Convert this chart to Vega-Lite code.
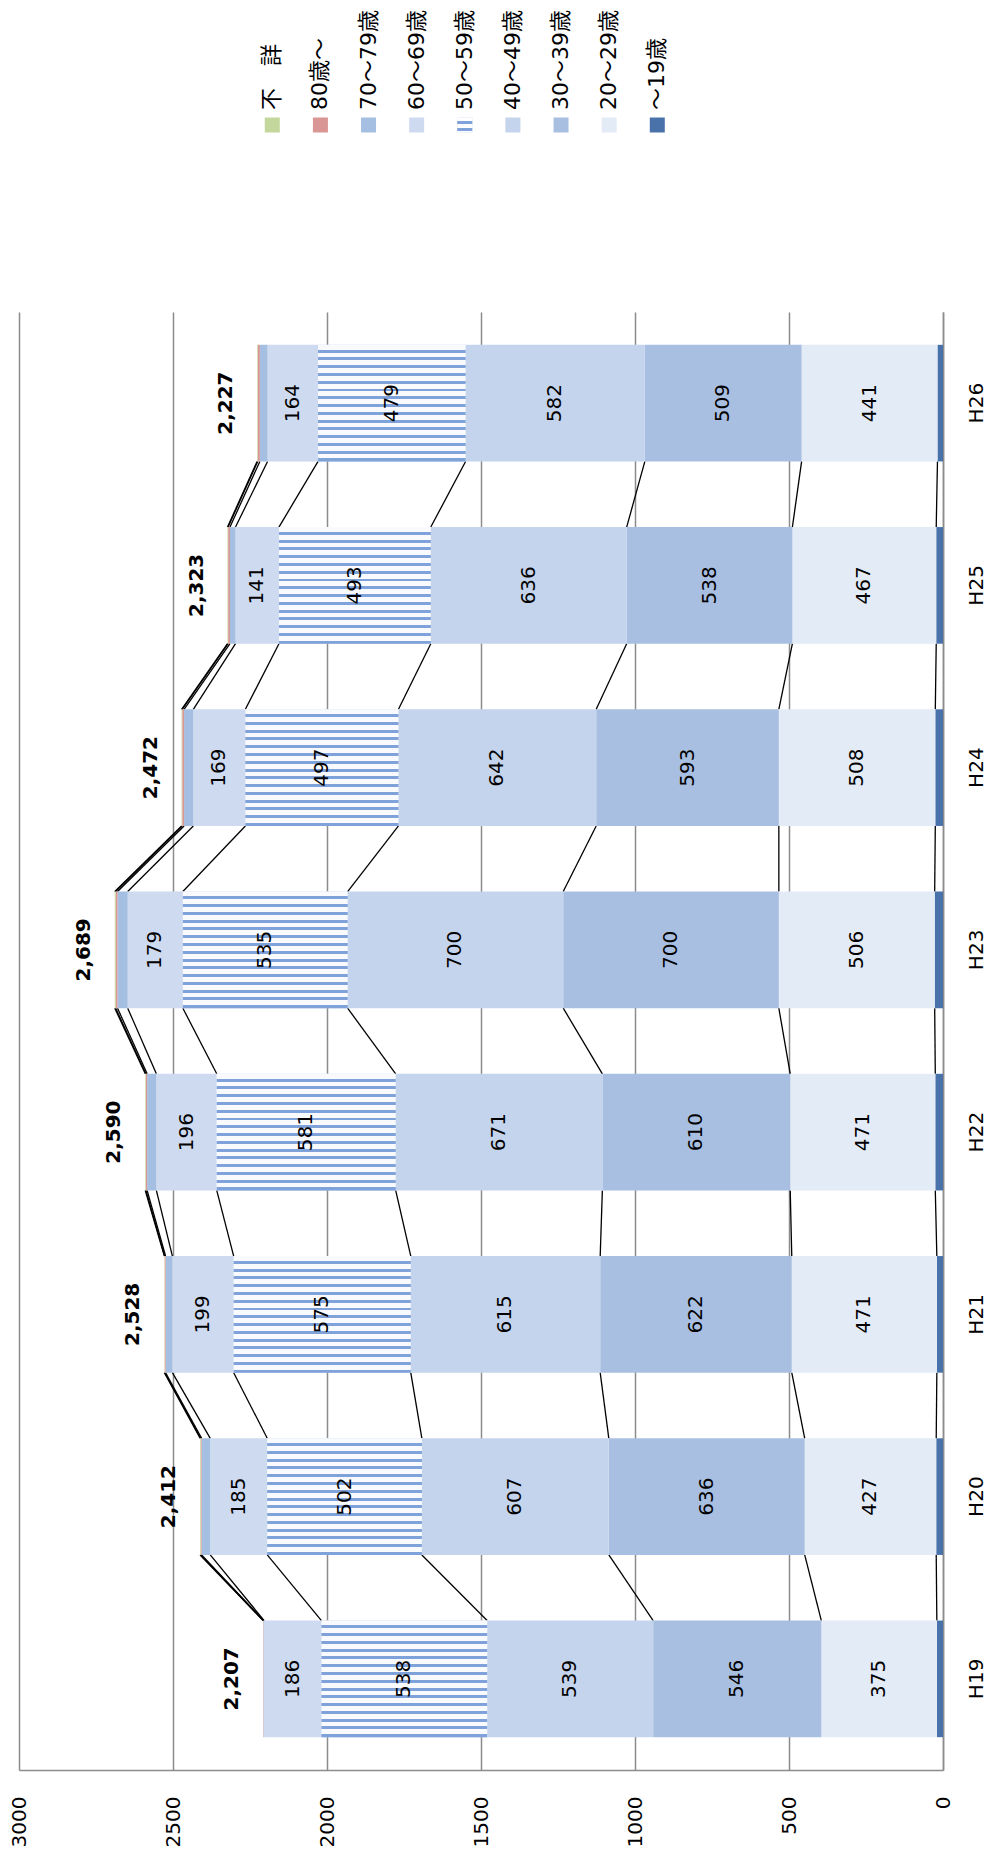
{
  "$schema": "https://vega.github.io/schema/vega-lite/v6.json",
  "padding": {"left": 9, "top": 0, "right": 0, "bottom": 0},
  "config": {
    "view": {"stroke": null},
    "font": "DejaVu Sans",
    "axis": {"labelFont": "DejaVu Sans", "labelColor": "#000000", "labelFontSize": 20}
  },
  "datasets": {
    "main": [
      {"year": "H19", "series": "～19歳", "s": 1, "v": 20},
      {"year": "H19", "series": "20～29歳", "s": 2, "v": 375},
      {"year": "H19", "series": "30～39歳", "s": 3, "v": 546},
      {"year": "H19", "series": "40～49歳", "s": 4, "v": 539},
      {"year": "H19", "series": "50～59歳", "s": 5, "v": 538},
      {"year": "H19", "series": "60～69歳", "s": 6, "v": 186},
      {"year": "H19", "series": "70～79歳", "s": 7, "v": 2},
      {"year": "H19", "series": "80歳～", "s": 8, "v": 1},
      {"year": "H19", "series": "不　詳", "s": 9, "v": 0},
      {"year": "H20", "series": "～19歳", "s": 1, "v": 22},
      {"year": "H20", "series": "20～29歳", "s": 2, "v": 427},
      {"year": "H20", "series": "30～39歳", "s": 3, "v": 636},
      {"year": "H20", "series": "40～49歳", "s": 4, "v": 607},
      {"year": "H20", "series": "50～59歳", "s": 5, "v": 502},
      {"year": "H20", "series": "60～69歳", "s": 6, "v": 185},
      {"year": "H20", "series": "70～79歳", "s": 7, "v": 28},
      {"year": "H20", "series": "80歳～", "s": 8, "v": 3},
      {"year": "H20", "series": "不　詳", "s": 9, "v": 2},
      {"year": "H21", "series": "～19歳", "s": 1, "v": 20},
      {"year": "H21", "series": "20～29歳", "s": 2, "v": 471},
      {"year": "H21", "series": "30～39歳", "s": 3, "v": 622},
      {"year": "H21", "series": "40～49歳", "s": 4, "v": 615},
      {"year": "H21", "series": "50～59歳", "s": 5, "v": 575},
      {"year": "H21", "series": "60～69歳", "s": 6, "v": 199},
      {"year": "H21", "series": "70～79歳", "s": 7, "v": 22},
      {"year": "H21", "series": "80歳～", "s": 8, "v": 3},
      {"year": "H21", "series": "不　詳", "s": 9, "v": 1},
      {"year": "H22", "series": "～19歳", "s": 1, "v": 25},
      {"year": "H22", "series": "20～29歳", "s": 2, "v": 471},
      {"year": "H22", "series": "30～39歳", "s": 3, "v": 610},
      {"year": "H22", "series": "40～49歳", "s": 4, "v": 671},
      {"year": "H22", "series": "50～59歳", "s": 5, "v": 581},
      {"year": "H22", "series": "60～69歳", "s": 6, "v": 196},
      {"year": "H22", "series": "70～79歳", "s": 7, "v": 30},
      {"year": "H22", "series": "80歳～", "s": 8, "v": 4},
      {"year": "H22", "series": "不　詳", "s": 9, "v": 2},
      {"year": "H23", "series": "～19歳", "s": 1, "v": 27},
      {"year": "H23", "series": "20～29歳", "s": 2, "v": 506},
      {"year": "H23", "series": "30～39歳", "s": 3, "v": 700},
      {"year": "H23", "series": "40～49歳", "s": 4, "v": 700},
      {"year": "H23", "series": "50～59歳", "s": 5, "v": 535},
      {"year": "H23", "series": "60～69歳", "s": 6, "v": 179},
      {"year": "H23", "series": "70～79歳", "s": 7, "v": 33},
      {"year": "H23", "series": "80歳～", "s": 8, "v": 6},
      {"year": "H23", "series": "不　詳", "s": 9, "v": 3},
      {"year": "H24", "series": "～19歳", "s": 1, "v": 25},
      {"year": "H24", "series": "20～29歳", "s": 2, "v": 508},
      {"year": "H24", "series": "30～39歳", "s": 3, "v": 593},
      {"year": "H24", "series": "40～49歳", "s": 4, "v": 642},
      {"year": "H24", "series": "50～59歳", "s": 5, "v": 497},
      {"year": "H24", "series": "60～69歳", "s": 6, "v": 169},
      {"year": "H24", "series": "70～79歳", "s": 7, "v": 30},
      {"year": "H24", "series": "80歳～", "s": 8, "v": 6},
      {"year": "H24", "series": "不　詳", "s": 9, "v": 2},
      {"year": "H25", "series": "～19歳", "s": 1, "v": 22},
      {"year": "H25", "series": "20～29歳", "s": 2, "v": 467},
      {"year": "H25", "series": "30～39歳", "s": 3, "v": 538},
      {"year": "H25", "series": "40～49歳", "s": 4, "v": 636},
      {"year": "H25", "series": "50～59歳", "s": 5, "v": 493},
      {"year": "H25", "series": "60～69歳", "s": 6, "v": 141},
      {"year": "H25", "series": "70～79歳", "s": 7, "v": 18},
      {"year": "H25", "series": "80歳～", "s": 8, "v": 6},
      {"year": "H25", "series": "不　詳", "s": 9, "v": 2},
      {"year": "H26", "series": "～19歳", "s": 1, "v": 18},
      {"year": "H26", "series": "20～29歳", "s": 2, "v": 441},
      {"year": "H26", "series": "30～39歳", "s": 3, "v": 509},
      {"year": "H26", "series": "40～49歳", "s": 4, "v": 582},
      {"year": "H26", "series": "50～59歳", "s": 5, "v": 479},
      {"year": "H26", "series": "60～69歳", "s": 6, "v": 164},
      {"year": "H26", "series": "70～79歳", "s": 7, "v": 25},
      {"year": "H26", "series": "80歳～", "s": 8, "v": 7},
      {"year": "H26", "series": "不　詳", "s": 9, "v": 2}
    ],
    "legend": [
      {"series": "不　詳", "s": 9},
      {"series": "80歳～", "s": 8},
      {"series": "70～79歳", "s": 7},
      {"series": "60～69歳", "s": 6},
      {"series": "50～59歳", "s": 5},
      {"series": "40～49歳", "s": 4},
      {"series": "30～39歳", "s": 3},
      {"series": "20～29歳", "s": 2},
      {"series": "～19歳", "s": 1}
    ]
  },
  "spacing": 62,
  "vconcat": [
    {
      "width": 924,
      "height": 250,
      "data": {"name": "legend"},
      "layer": [
        {
          "mark": {"type": "square", "size": 225, "opacity": 1, "filled": true},
          "encoding": {
            "x": {"field": "s", "type": "quantitative", "title": null, "axis": null,
                  "scale": {"domain": [-4.937, 14.263], "reverse": true, "nice": false, "zero": false}},
            "color": {"field": "series", "type": "nominal", "legend": null}
          }
        },
        {
          "transform": [{"filter": "datum.s === 5"}],
          "mark": {"type": "square", "size": 225, "opacity": 1,
                   "fill": {"gradient": "linear", "x1": 0, "y1": 0, "x2": 0, "y2": 1,
                            "stops": [
                              {"offset": 0, "color": "#ffffff"}, {"offset": 0.26, "color": "#ffffff"},
                              {"offset": 0.26, "color": "#7ea2d9"}, {"offset": 0.42, "color": "#7ea2d9"},
                              {"offset": 0.42, "color": "#ffffff"}, {"offset": 0.72, "color": "#ffffff"},
                              {"offset": 0.72, "color": "#7ea2d9"}, {"offset": 0.88, "color": "#7ea2d9"},
                              {"offset": 0.88, "color": "#ffffff"}, {"offset": 1, "color": "#ffffff"}
                            ]}},
          "encoding": {
            "x": {"field": "s", "type": "quantitative", "title": null, "axis": null,
                  "scale": {"domain": [-4.937, 14.263], "reverse": true, "nice": false, "zero": false}}
          }
        },
        {
          "mark": {"type": "text", "angle": 270, "align": "left", "baseline": "middle", "dx": 15, "fontSize": 22, "font": "DejaVu Sans, Noto Sans CJK JP", "color": "#000000"},
          "encoding": {
            "x": {"field": "s", "type": "quantitative", "title": null, "axis": null,
                  "scale": {"domain": [-4.937, 14.263], "reverse": true, "nice": false, "zero": false}},
            "text": {"field": "series", "type": "nominal"}
          }
        }
      ]
    },
    {
      "width": 924,
      "height": 1458,
      "data": {"name": "main"},
      "transform": [
        {"stack": "v", "groupby": ["year"], "sort": [{"field": "s", "order": "ascending"}], "as": ["v0", "v1"]}
      ],
      "layer": [
        {
          "transform": [
            {"window": [{"op": "lead", "field": "v1", "as": "v1n"}, {"op": "lead", "field": "year", "as": "yearn"}],
             "groupby": ["s"], "sort": [{"field": "year", "order": "ascending"}]},
            {"filter": "datum.yearn != null"}
          ],
          "mark": {"type": "rule", "color": "#000000", "strokeWidth": 1.3},
          "encoding": {
            "x": {"field": "v1", "type": "quantitative", "title": null,
                  "scale": {"domain": [0, 3000], "reverse": true, "nice": false, "zero": true},
                  "axis": {"values": [0, 500, 1000, 1500, 2000, 2500, 3000], "format": "d", "grid": true, "gridColor": "#8c8c8c", "gridWidth": 1.5,
                           "domainColor": "#8c8c8c", "domainWidth": 1.5, "ticks": false, "labelAngle": 270,
                           "labelAlign": "right", "labelBaseline": "middle", "labelPadding": 26, "labelFlush": false,
                           "labelOverlap": false, "labelFontSize": 20, "labelColor": "#000000"}},
            "x2": {"field": "v1n"},
            "y": {"field": "year", "type": "ordinal", "title": null, "bandPosition": 0,
                  "scale": {"domain": ["H26", "H25", "H24", "H23", "H22", "H21", "H20", "H19"], "paddingInner": 0.36, "paddingOuter": 0.18},
                  "axis": {"orient": "right", "ticks": false, "grid": false, "domainColor": "#8c8c8c", "domainWidth": 1.5,
                           "labelAngle": 270, "labelAlign": "center", "labelBaseline": "top", "labelPadding": 23,
                           "labelFontSize": 20, "labelColor": "#000000"}},
            "y2": {"field": "yearn", "bandPosition": 1}
          }
        },
        {
          "mark": {"type": "bar"},
          "encoding": {
            "x": {"field": "v0", "type": "quantitative", "title": null,
                  "scale": {"domain": [0, 3000], "reverse": true, "nice": false, "zero": true},
                  "axis": {"values": [0, 500, 1000, 1500, 2000, 2500, 3000], "format": "d", "grid": true, "gridColor": "#8c8c8c", "gridWidth": 1.5,
                           "domainColor": "#8c8c8c", "domainWidth": 1.5, "ticks": false, "labelAngle": 270,
                           "labelAlign": "right", "labelBaseline": "middle", "labelPadding": 26, "labelFlush": false,
                           "labelOverlap": false, "labelFontSize": 20, "labelColor": "#000000"}},
            "x2": {"field": "v1"},
            "y": {"field": "year", "type": "ordinal", "title": null,
                  "scale": {"domain": ["H26", "H25", "H24", "H23", "H22", "H21", "H20", "H19"], "paddingInner": 0.36, "paddingOuter": 0.18},
                  "axis": {"orient": "right", "ticks": false, "grid": false, "domainColor": "#8c8c8c", "domainWidth": 1.5,
                           "labelAngle": 270, "labelAlign": "center", "labelBaseline": "top", "labelPadding": 23,
                           "labelFontSize": 20, "labelColor": "#000000"}},
            "color": {"field": "series", "type": "nominal", "legend": null,
                      "scale": {"domain": ["～19歳", "20～29歳", "30～39歳", "40～49歳", "50～59歳", "60～69歳", "70～79歳", "80歳～", "不　詳"],
                                "range": ["#4a72aa", "#e3ebf7", "#a8bfe2", "#c4d4ed", "#c0d2ec", "#cddaf0", "#a5bfe3", "#d99694", "#c3d69b"]}}
          }
        },
        {
          "transform": [{"filter": "datum.s === 5"}],
          "mark": {"type": "bar",
                   "fill": {"gradient": "linear", "x1": 0, "y1": 0, "x2": 0, "y2": 1,
                            "stops": [
                              {"offset": 0, "color": "#f8fafd"}, {"offset": 0.041333, "color": "#f8fafd"}, {"offset": 0.041333, "color": "#7ea2d9"}, {"offset": 0.066667, "color": "#7ea2d9"},
                              {"offset": 0.066667, "color": "#f8fafd"}, {"offset": 0.108, "color": "#f8fafd"}, {"offset": 0.108, "color": "#7ea2d9"}, {"offset": 0.133333, "color": "#7ea2d9"},
                              {"offset": 0.133333, "color": "#f8fafd"}, {"offset": 0.174667, "color": "#f8fafd"}, {"offset": 0.174667, "color": "#7ea2d9"}, {"offset": 0.2, "color": "#7ea2d9"},
                              {"offset": 0.2, "color": "#f8fafd"}, {"offset": 0.241333, "color": "#f8fafd"}, {"offset": 0.241333, "color": "#7ea2d9"}, {"offset": 0.266667, "color": "#7ea2d9"},
                              {"offset": 0.266667, "color": "#f8fafd"}, {"offset": 0.308, "color": "#f8fafd"}, {"offset": 0.308, "color": "#7ea2d9"}, {"offset": 0.333333, "color": "#7ea2d9"},
                              {"offset": 0.333333, "color": "#f8fafd"}, {"offset": 0.374667, "color": "#f8fafd"}, {"offset": 0.374667, "color": "#7ea2d9"}, {"offset": 0.4, "color": "#7ea2d9"},
                              {"offset": 0.4, "color": "#f8fafd"}, {"offset": 0.441333, "color": "#f8fafd"}, {"offset": 0.441333, "color": "#7ea2d9"}, {"offset": 0.466667, "color": "#7ea2d9"},
                              {"offset": 0.466667, "color": "#f8fafd"}, {"offset": 0.508, "color": "#f8fafd"}, {"offset": 0.508, "color": "#7ea2d9"}, {"offset": 0.533333, "color": "#7ea2d9"},
                              {"offset": 0.533333, "color": "#f8fafd"}, {"offset": 0.574667, "color": "#f8fafd"}, {"offset": 0.574667, "color": "#7ea2d9"}, {"offset": 0.6, "color": "#7ea2d9"},
                              {"offset": 0.6, "color": "#f8fafd"}, {"offset": 0.641333, "color": "#f8fafd"}, {"offset": 0.641333, "color": "#7ea2d9"}, {"offset": 0.666667, "color": "#7ea2d9"},
                              {"offset": 0.666667, "color": "#f8fafd"}, {"offset": 0.708, "color": "#f8fafd"}, {"offset": 0.708, "color": "#7ea2d9"}, {"offset": 0.733333, "color": "#7ea2d9"},
                              {"offset": 0.733333, "color": "#f8fafd"}, {"offset": 0.774667, "color": "#f8fafd"}, {"offset": 0.774667, "color": "#7ea2d9"}, {"offset": 0.8, "color": "#7ea2d9"},
                              {"offset": 0.8, "color": "#f8fafd"}, {"offset": 0.841333, "color": "#f8fafd"}, {"offset": 0.841333, "color": "#7ea2d9"}, {"offset": 0.866667, "color": "#7ea2d9"},
                              {"offset": 0.866667, "color": "#f8fafd"}, {"offset": 0.908, "color": "#f8fafd"}, {"offset": 0.908, "color": "#7ea2d9"}, {"offset": 0.933333, "color": "#7ea2d9"},
                              {"offset": 0.933333, "color": "#f8fafd"}, {"offset": 0.974667, "color": "#f8fafd"}, {"offset": 0.974667, "color": "#7ea2d9"}, {"offset": 1, "color": "#7ea2d9"}
                            ]}},
          "encoding": {
            "x": {"field": "v0", "type": "quantitative", "title": null,
                  "scale": {"domain": [0, 3000], "reverse": true, "nice": false, "zero": true},
                  "axis": {"values": [0, 500, 1000, 1500, 2000, 2500, 3000], "format": "d", "grid": true, "gridColor": "#8c8c8c", "gridWidth": 1.5,
                           "domainColor": "#8c8c8c", "domainWidth": 1.5, "ticks": false, "labelAngle": 270,
                           "labelAlign": "right", "labelBaseline": "middle", "labelPadding": 26, "labelFlush": false,
                           "labelOverlap": false, "labelFontSize": 20, "labelColor": "#000000"}},
            "x2": {"field": "v1"},
            "y": {"field": "year", "type": "ordinal", "title": null,
                  "scale": {"domain": ["H26", "H25", "H24", "H23", "H22", "H21", "H20", "H19"], "paddingInner": 0.36, "paddingOuter": 0.18},
                  "axis": {"orient": "right", "ticks": false, "grid": false, "domainColor": "#8c8c8c", "domainWidth": 1.5,
                           "labelAngle": 270, "labelAlign": "center", "labelBaseline": "top", "labelPadding": 23,
                           "labelFontSize": 20, "labelColor": "#000000"}}
          }
        },
        {
          "mark": {"type": "text", "angle": 270, "align": "center", "baseline": "middle", "fontSize": 20, "color": "#000000", "font": "DejaVu Sans"},
          "encoding": {
            "x": {"field": "v", "type": "quantitative", "stack": "zero", "bandPosition": 0.5, "title": null,
                  "scale": {"domain": [0, 3000], "reverse": true, "nice": false, "zero": true},
                  "axis": {"values": [0, 500, 1000, 1500, 2000, 2500, 3000], "format": "d", "grid": true, "gridColor": "#8c8c8c", "gridWidth": 1.5,
                           "domainColor": "#8c8c8c", "domainWidth": 1.5, "ticks": false, "labelAngle": 270,
                           "labelAlign": "right", "labelBaseline": "middle", "labelPadding": 26, "labelFlush": false,
                           "labelOverlap": false, "labelFontSize": 20, "labelColor": "#000000"}},
            "y": {"field": "year", "type": "ordinal", "title": null,
                  "scale": {"domain": ["H26", "H25", "H24", "H23", "H22", "H21", "H20", "H19"], "paddingInner": 0.36, "paddingOuter": 0.18},
                  "axis": {"orient": "right", "ticks": false, "grid": false, "domainColor": "#8c8c8c", "domainWidth": 1.5,
                           "labelAngle": 270, "labelAlign": "center", "labelBaseline": "top", "labelPadding": 23,
                           "labelFontSize": 20, "labelColor": "#000000"}},
            "detail": {"field": "series", "type": "nominal"},
            "order": {"field": "s", "type": "quantitative"},
            "text": {"condition": {"test": "datum.s >= 2 && datum.s <= 6", "field": "v", "type": "quantitative"}, "value": ""}
          }
        },
        {
          "transform": [{"aggregate": [{"op": "sum", "field": "v", "as": "total"}], "groupby": ["year"]}],
          "mark": {"type": "text", "angle": 270, "align": "center", "baseline": "alphabetic", "dy": -25, "fontSize": 20, "fontWeight": "bold", "color": "#000000", "font": "DejaVu Sans"},
          "encoding": {
            "x": {"field": "total", "type": "quantitative", "title": null,
                  "scale": {"domain": [0, 3000], "reverse": true, "nice": false, "zero": true},
                  "axis": {"values": [0, 500, 1000, 1500, 2000, 2500, 3000], "format": "d", "grid": true, "gridColor": "#8c8c8c", "gridWidth": 1.5,
                           "domainColor": "#8c8c8c", "domainWidth": 1.5, "ticks": false, "labelAngle": 270,
                           "labelAlign": "right", "labelBaseline": "middle", "labelPadding": 26, "labelFlush": false,
                           "labelOverlap": false, "labelFontSize": 20, "labelColor": "#000000"}},
            "y": {"field": "year", "type": "ordinal", "title": null,
                  "scale": {"domain": ["H26", "H25", "H24", "H23", "H22", "H21", "H20", "H19"], "paddingInner": 0.36, "paddingOuter": 0.18},
                  "axis": {"orient": "right", "ticks": false, "grid": false, "domainColor": "#8c8c8c", "domainWidth": 1.5,
                           "labelAngle": 270, "labelAlign": "center", "labelBaseline": "top", "labelPadding": 23,
                           "labelFontSize": 20, "labelColor": "#000000"}},
            "text": {"field": "total", "type": "quantitative", "format": ","}
          }
        }
      ]
    }
  ]
}
